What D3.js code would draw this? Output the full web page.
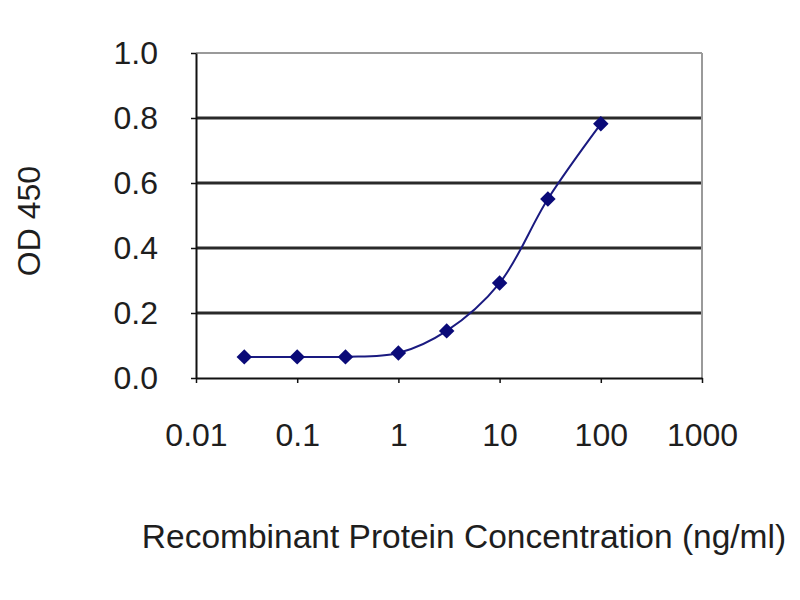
<html>
<head>
<title>OD 450 vs concentration</title>
<script src="https://cdn.jsdelivr.net/npm/d3@7"></script>
<style>
  body { margin: 0; background: #fff; }
  svg text { font-family: "Liberation Sans", Arial, sans-serif; fill: #1e1e1e; }
</style>
</head>
<body>
<svg id="chart" width="800" height="600"></svg>
<script>
// data
var concentrations = [0.03, 0.1, 0.3, 1, 3, 10, 30, 100];
var odValues = [0.065, 0.065, 0.065, 0.077, 0.145, 0.292, 0.551, 0.782];
var xTicks = [0.01, 0.1, 1, 10, 100, 1000];
var xTickLabels = ["0.01", "0.1", "1", "10", "100", "1000"];
var yTicks = [0, 0.2, 0.4, 0.6, 0.8, 1.0];
var yTickLabels = ["0.0", "0.2", "0.4", "0.6", "0.8", "1.0"];

var margin = {top: 53, left: 196};
var w = 506, h = 325;

var svg = d3.select("#chart");
svg.append("rect").attr("width", 800).attr("height", 600).attr("fill", "#fff");

var g = svg.append("g").attr("transform", "translate(" + margin.left + "," + margin.top + ")");

var x = d3.scaleLog().domain([0.01, 1000]).range([0, w]);
var y = d3.scaleLinear().domain([0, 1]).range([h, 0]);

// grid lines
g.selectAll(".grid")
  .data(yTicks.filter(function (d) { return d > 0 && d < 1; }))
  .enter().append("line")
  .attr("x1", 0).attr("x2", w)
  .attr("y1", function (d) { return y(d); })
  .attr("y2", function (d) { return y(d); })
  .attr("stroke", "#2a2a2a").attr("stroke-width", 3);

// top and right border (grey)
g.append("line").attr("x1", 0).attr("x2", w).attr("y1", 0).attr("y2", 0)
  .attr("stroke", "#9a9a9a").attr("stroke-width", 2);
g.append("line").attr("x1", w).attr("x2", w).attr("y1", 0).attr("y2", h)
  .attr("stroke", "#9a9a9a").attr("stroke-width", 2);

// axes
var xAxis = d3.axisBottom(x)
  .tickValues(xTicks)
  .tickFormat(function (d, i) { return xTickLabels[i]; })
  .tickSize(5).tickPadding(40).tickSizeOuter(0);
var yAxis = d3.axisLeft(y)
  .tickValues(yTicks)
  .tickFormat(function (d, i) { return yTickLabels[i]; })
  .tickSize(5).tickPadding(33).tickSizeOuter(0);

var gx = g.append("g").attr("transform", "translate(0," + h + ")").call(xAxis);
var gy = g.append("g").call(yAxis);

[gx, gy].forEach(function (a) {
  a.select(".domain").attr("stroke", "#111").attr("stroke-width", 2);
  a.selectAll(".tick line").attr("stroke", "#111").attr("stroke-width", 1.5);
  a.selectAll(".tick text").attr("font-size", 32)
    .attr("font-family", "Liberation Sans, Arial, sans-serif").attr("fill", "#1e1e1e");
});

// series line (smoothed)
var pts = concentrations.map(function (c, i) { return [x(c), y(odValues[i])]; });
var line = d3.line().curve(d3.curveCatmullRom.alpha(0.5));
g.append("path")
  .attr("d", line(pts))
  .attr("fill", "none")
  .attr("stroke", "#1a1a80")
  .attr("stroke-width", 2);

// diamond markers
var diamond = d3.symbol().type(d3.symbolSquare).size(120);
g.selectAll(".pt")
  .data(pts)
  .enter().append("path")
  .attr("d", diamond)
  .attr("transform", function (d) { return "translate(" + d[0] + "," + d[1] + ") rotate(45)"; })
  .attr("fill", "#0a0a78");

// axis titles
svg.append("text")
  .attr("x", 464).attr("y", 548)
  .attr("text-anchor", "middle")
  .attr("font-size", 33.5)
  .text("Recombinant Protein Concentration (ng/ml)");

svg.append("text")
  .attr("transform", "translate(40,221) rotate(-90)")
  .attr("text-anchor", "middle")
  .attr("font-size", 32)
  .text("OD 450");
</script>
</body>
</html>
